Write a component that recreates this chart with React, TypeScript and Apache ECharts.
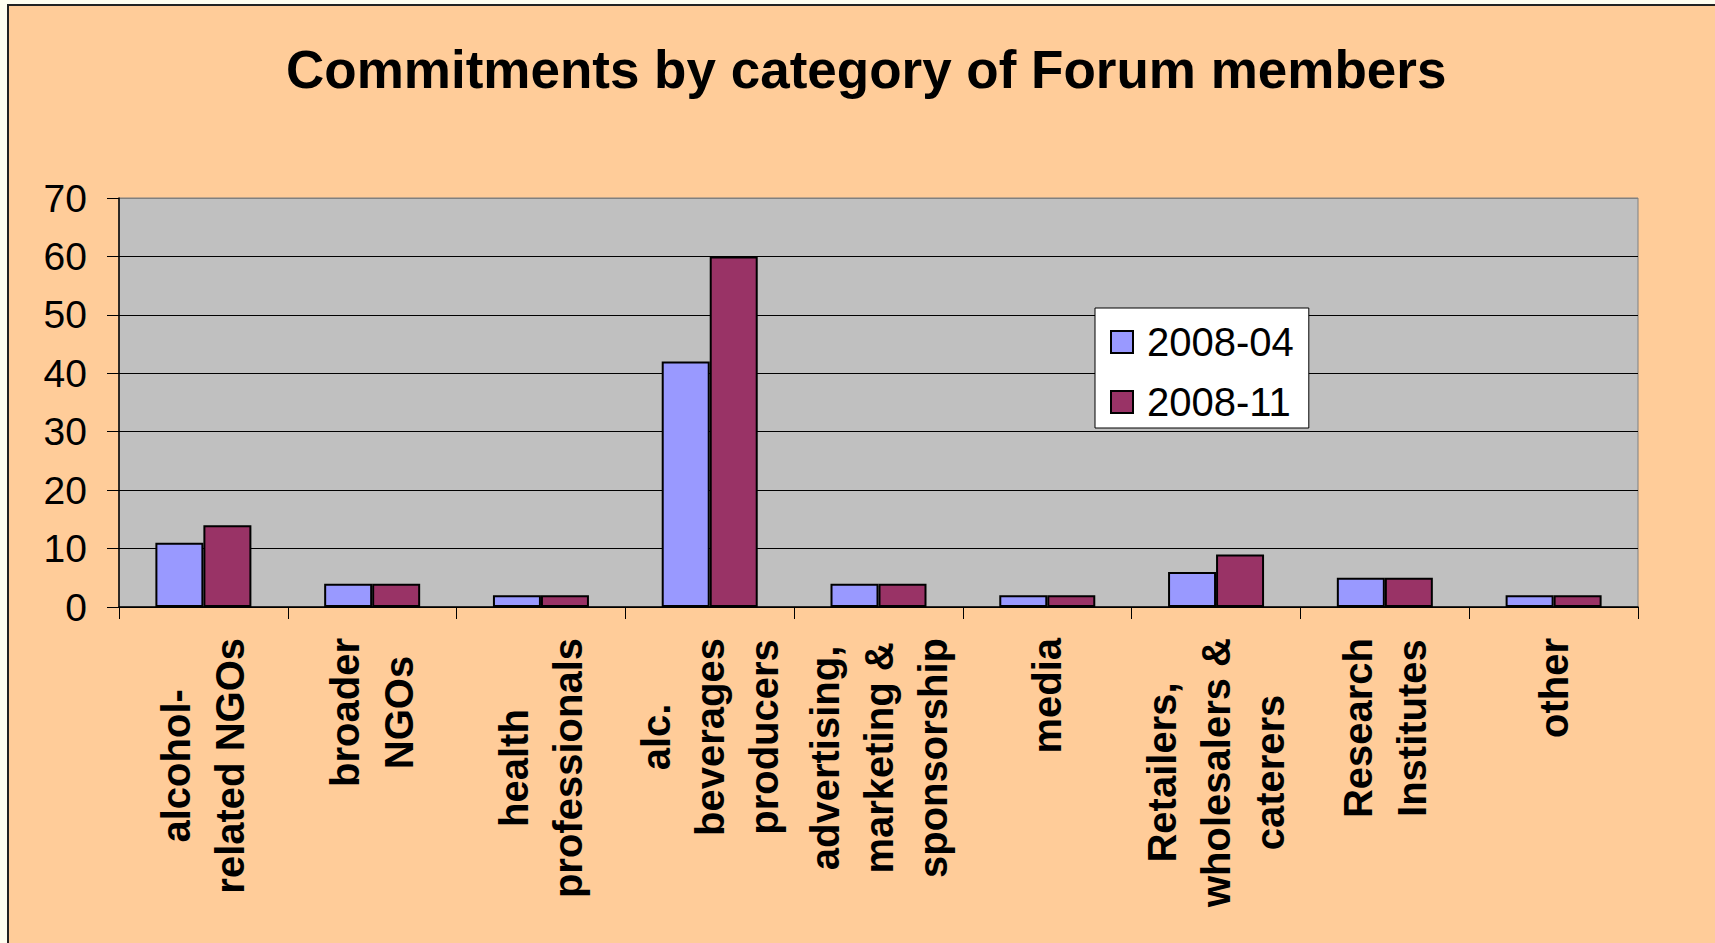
import React, { useEffect, useRef } from "react";
import * as echarts from "echarts";

const titleText = "Commitments by category of Forum members";
const categories = [
  "alcohol-\nrelated NGOs",
  "broader\nNGOs",
  "health\nprofessionals",
  "alc.\nbeverages\nproducers",
  "advertising,\nmarketing &\nsponsorship",
  "media",
  "Retailers,\nwholesalers &\ncaterers",
  "Research\nInstitutes",
  "other",
];
const seriesNames = ["2008-04", "2008-11"];
const values0804 = [11, 4, 2, 42, 4, 2, 6, 5, 2];
const values0811 = [14, 4, 2, 60, 4, 2, 9, 5, 2];
const yMin = 0;
const yMax = 70;
const yInterval = 10;

const FONT = "'Liberation Sans', Arial, Helvetica, sans-serif";

export default function App() {
  const ref = useRef<HTMLDivElement>(null);
  useEffect(() => {
    if (!ref.current) return;
    const chart = echarts.init(ref.current, null, { renderer: "svg" });
    const gridLineColors = [
      "#000", "#000", "#000", "#000", "#000", "#000", "#000", "#808080",
    ];
    chart.setOption({
      animation: false,
      backgroundColor: "#FFFEF0",
      graphic: [
        {
          type: "rect",
          z: -100,
          silent: true,
          shape: { x: 8, y: 5, width: 1760, height: 1000 },
          style: { fill: "#FFCC99", stroke: "#222", lineWidth: 2 },
        },
      ],
      title: {
        text: titleText,
        left: 286,
        top: 43,
        padding: 0,
        textStyle: {
          fontFamily: FONT,
          fontSize: 53,
          fontWeight: "bold",
          color: "#000",
        },
      },
      legend: {
        orient: "vertical",
        left: 1095,
        top: 308,
        backgroundColor: "#FFFFFF",
        borderColor: "#000",
        borderWidth: 1,
        borderRadius: 0,
        padding: [14, 15, 6, 15],
        itemGap: 20,
        itemWidth: 22,
        itemHeight: 22,
        icon: "rect",
        data: seriesNames,
        textStyle: {
          fontFamily: FONT,
          fontSize: 40,
          color: "#000",
          padding: [0, 0, 0, 9],
        },
      },
      grid: {
        left: 119,
        right: 77,
        top: 198,
        bottom: 336,
        show: true,
        backgroundColor: "#C0C0C0",
        borderColor: "#808080",
        borderWidth: 1,
        containLabel: false,
      },
      xAxis: {
        type: "category",
        data: categories,
        boundaryGap: true,
        axisLine: { show: true, lineStyle: { color: "#000", width: 1.5 } },
        axisTick: {
          show: true,
          inside: false,
          length: 12,
          lineStyle: { color: "#000", width: 1 },
        },
        splitLine: { show: false },
        axisLabel: {
          interval: 0,
          rotate: 90,
          margin: 31,
          formatter: (v: string) =>
            v
              .split("\n")
              .map((l) => `{c|${l}}`)
              .join("\n"),
          rich: {
            c: {
              align: "center",
              fontFamily: FONT,
              fontSize: 40,
              fontWeight: "bold",
              color: "#000",
              lineHeight: 54,
            },
          },
        },
      },
      yAxis: {
        type: "value",
        min: yMin,
        max: yMax,
        interval: yInterval,
        axisLine: { show: true, lineStyle: { color: "#000", width: 1.5 } },
        axisTick: {
          show: true,
          inside: false,
          length: 12,
          lineStyle: { color: "#000", width: 1 },
        },
        splitLine: {
          show: true,
          lineStyle: { color: gridLineColors, width: 1 },
        },
        axisLabel: {
          margin: 32,
          fontFamily: FONT,
          fontSize: 39,
          color: "#000",
        },
      },
      series: [
        {
          name: seriesNames[0],
          type: "bar",
          data: values0804,
          barWidth: 48,
          barGap: "0%",
          itemStyle: { color: "#9999FF", borderColor: "#000", borderWidth: 2 },
        },
        {
          name: seriesNames[1],
          type: "bar",
          data: values0811,
          barWidth: 48,
          barGap: "0%",
          itemStyle: { color: "#993366", borderColor: "#000", borderWidth: 2 },
        },
      ],
    });
    return () => chart.dispose();
  }, []);
  return (
    <div
      ref={ref}
      style={{
        position: "fixed",
        left: 0,
        top: 0,
        width: "1715px",
        height: "943px",
      }}
    />
  );
}
